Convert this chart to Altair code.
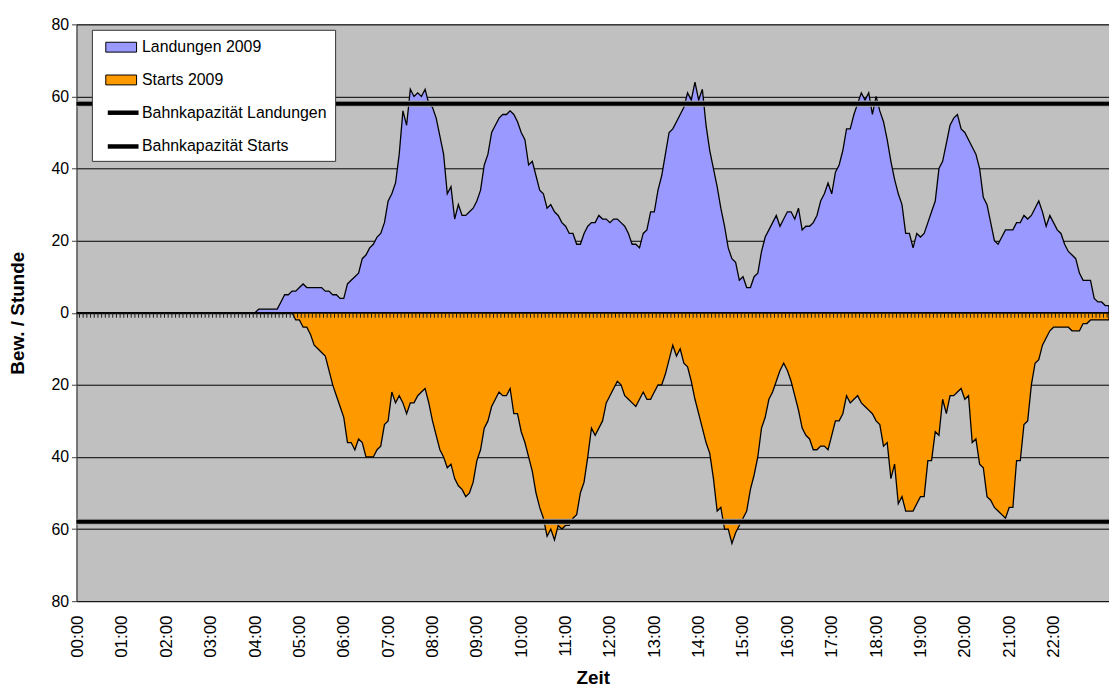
import altair as alt
import pandas as pd

FONT = "Liberation Sans"

# one row per hour, 12 five-minute slots each (00:00 ... 23:15)
landungen = [
    0, 0, 0, 0, 0, 0, 0, 0, 0, 0, 0, 0,          # 00
    0, 0, 0, 0, 0, 0, 0, 0, 0, 0, 0, 0,          # 01
    0, 0, 0, 0, 0, 0, 0, 0, 0, 0, 0, 0,          # 02
    0, 0, 0, 0, 0, 0, 0, 0, 0, 0, 0, 0,          # 03
    0, 1, 1, 1, 1, 1, 1, 3, 5, 5, 6, 6,          # 04
    7, 8, 7, 7, 7, 7, 7, 6, 6, 5, 5, 4,          # 05
    4, 8, 9, 10, 11, 15, 16, 18, 19, 21, 22, 25,  # 06
    31, 33, 36, 44, 56, 52, 62, 60, 61, 60, 62, 58,  # 07
    57, 54, 49, 44, 33, 35, 26, 30, 27, 27, 28, 29,  # 08
    31, 34, 41, 44, 50, 52, 54, 55, 55, 56, 55, 53,  # 09
    50, 48, 41, 42, 38, 34, 33, 29, 30, 28, 27, 25,  # 10
    24, 22, 22, 19, 19, 22, 24, 25, 25, 27, 26, 26,  # 11
    25, 26, 26, 25, 24, 22, 19, 19, 18, 22, 23, 28,  # 12
    28, 34, 38, 44, 50, 51, 53, 55, 57, 61, 59, 64,  # 13
    59, 62, 52, 45, 40, 35, 29, 24, 18, 15, 14, 9,   # 14
    10, 7, 7, 10, 11, 17, 21, 23, 25, 27, 24, 26,    # 15
    28, 28, 26, 29, 23, 24, 24, 25, 27, 31, 33, 36,  # 16
    33, 39, 41, 45, 51, 51, 55, 58, 61, 59, 61, 55,  # 17
    60, 56, 53, 48, 42, 37, 33, 30, 22, 22, 18, 22,  # 18
    21, 22, 25, 28, 31, 40, 42, 47, 52, 54, 55, 51,  # 19
    50, 48, 46, 44, 40, 32, 30, 25, 20, 19, 21, 23,  # 20
    23, 23, 25, 25, 27, 26, 27, 29, 31, 28, 24, 27,  # 21
    25, 23, 22, 19, 17, 16, 15, 11, 9, 9, 9, 4,      # 22
    3, 3, 2, 2,                                       # 23
]

starts = [
    0, 0, 0, 0, 0, 0, 0, 0, 0, 0, 0, 0,          # 00
    0, 0, 0, 0, 0, 0, 0, 0, 0, 0, 0, 0,          # 01
    0, 0, 0, 0, 0, 0, 0, 0, 0, 0, 0, 0,          # 02
    0, 0, 0, 0, 0, 0, 0, 0, 0, 0, 0, 0,          # 03
    0, 0, 0, 0, 0, 0, 0, 0, 0, 0, 0, 2,          # 04
    2, 4, 4, 6, 9, 10, 11, 12, 16, 20, 23, 26,    # 05
    29, 36, 36, 38, 35, 36, 40, 40, 40, 38, 37, 31,  # 06
    30, 22, 25, 23, 25, 28, 25, 25, 23, 22, 21, 25,  # 07
    30, 34, 38, 40, 43, 42, 46, 48, 49, 51, 50, 47,  # 08
    41, 38, 32, 30, 26, 24, 22, 23, 23, 21, 28, 28,  # 09
    33, 36, 40, 44, 50, 54, 57, 62, 60, 63, 59, 60,  # 10
    59, 59, 57, 56, 50, 47, 40, 32, 34, 32, 30, 25,  # 11
    23, 21, 19, 20, 23, 24, 25, 26, 24, 22, 24, 24,  # 12
    22, 20, 20, 17, 13, 9, 12, 10, 14, 15, 19, 24,   # 13
    28, 32, 36, 39, 46, 55, 54, 60, 60, 64, 61, 59,  # 14
    57, 55, 49, 45, 40, 32, 29, 24, 22, 19, 16, 14,  # 15
    16, 19, 23, 27, 32, 34, 35, 38, 38, 37, 37, 38,  # 16
    34, 30, 30, 28, 23, 25, 24, 23, 25, 26, 27, 28,  # 17
    30, 31, 37, 36, 46, 42, 53, 51, 55, 55, 55, 53,  # 18
    51, 51, 41, 41, 33, 34, 24, 28, 23, 23, 22, 21,  # 19
    24, 23, 36, 35, 42, 43, 51, 52, 54, 55, 56, 57,  # 20
    54, 54, 41, 41, 31, 30, 20, 14, 13, 9, 7, 5,     # 21
    4, 4, 4, 4, 4, 5, 5, 5, 3, 3, 2, 2,              # 22
    2, 2, 2, 2,                                       # 23
]

series_names = ["Landungen 2009", "Starts 2009"]
series_colors = ["#9999FF", "#FF9900"]
capacity_names = ["Bahnkapazität Landungen", "Bahnkapazität Starts"]
capacity_values = [58, -58]
hour_labels = [f"{h:02d}:00" for h in range(23)]

n = len(landungen)
minutes = [i * 5 for i in range(n)]
times = [f"{m // 60:02d}:{m % 60:02d}" for m in minutes]

area_df = pd.DataFrame({
    "zeit": times * 2,
    "t": minutes * 2,
    "wert": landungen + [-v for v in starts],
    "serie": [series_names[0]] * n + [series_names[1]] * n,
})
cap_df = pd.DataFrame({"name": capacity_names, "wert": capacity_values})
tick_df = pd.DataFrame({"t": [m - 2.5 for m in minutes] + [minutes[-1] + 2.5]})
frame_df = pd.DataFrame({"k": [0]})

x_scale = alt.Scale(domain=[-1.5, 1395], nice=False, zero=False)
y_scale = alt.Scale(domain=[-80, 80], nice=False)

x_axis = alt.Axis(
    values=[h * 60 for h in range(len(hour_labels))],
    labelExpr="(datum.value < 600 ? '0' : '') + floor(datum.value / 60) + ':00'",
    labelAngle=270, labelFontSize=17, labelPadding=14, ticks=False, domain=False,
    grid=False, title="Zeit", titleFontSize=19, titleFontWeight="bold",
    titleY=77, titleBaseline="middle",
)
y_axis = alt.Axis(
    values=list(range(-80, 81, 20)), labelExpr="abs(datum.value)",
    labelFontSize=16, labelPadding=3, tickSize=5, tickColor="#404040",
    domainColor="#404040", grid=True, gridColor="#000000", gridWidth=1,
    title="Bew. / Stunde", titleFontSize=19, titleFontWeight="bold",
    titleX=-59, titleBaseline="middle",
)

areas = alt.Chart(area_df).mark_area(
    stroke="black", strokeWidth=1.3, clip=True, interpolate="linear",
    orient="vertical",
).encode(
    x=alt.X("t:Q", scale=x_scale, axis=x_axis),
    y=alt.Y("wert:Q", scale=y_scale, axis=y_axis, stack=None),
    fill=alt.Fill(
        "serie:N",
        scale=alt.Scale(domain=series_names, range=series_colors),
        legend=alt.Legend(
            orient="none", legendX=29, legendY=7, title=None,
            symbolType="M-1,-0.32H1V0.32H-1Z", symbolSize=961,
            symbolStrokeColor="black", symbolStrokeWidth=1, symbolOpacity=1,
            labelFontSize=16, labelFont=FONT, labelOffset=5, labelLimit=300,
            rowPadding=9, padding=0,
        ),
    ),
)

frame = alt.Chart(frame_df).mark_rect(
    fill="white", stroke="#333333", strokeWidth=1
).encode(
    x=alt.value(16), x2=alt.value(261), y=alt.value(6), y2=alt.value(138)
)

halo = alt.Chart(cap_df).mark_rule(stroke="#a6a6a6", strokeWidth=6).encode(
    y=alt.Y("wert:Q", scale=y_scale)
)

cap = alt.Chart(cap_df).mark_rule(strokeWidth=4).encode(
    y=alt.Y("wert:Q", scale=y_scale),
    stroke=alt.Stroke(
        "name:N",
        scale=alt.Scale(domain=capacity_names, range=["black", "black"]),
        legend=alt.Legend(
            orient="none", legendX=29, legendY=71, title=None,
            symbolType="stroke", symbolSize=961, symbolStrokeWidth=4.5,
            labelFontSize=16, labelFont=FONT, labelOffset=1, labelLimit=300,
            rowPadding=7, padding=0,
        ),
    ),
)

zero = alt.Chart(frame_df).mark_rule(stroke="black", strokeWidth=1.5).encode(
    y=alt.datum(0)
)

ticks = alt.Chart(tick_df).mark_rule(
    stroke="#1a1a1a", strokeWidth=1, y2Offset=5, clip=True
).encode(
    x=alt.X("t:Q", scale=x_scale), y=alt.datum(0), y2=alt.datum(0)
)

chart = alt.layer(areas, halo, cap, zero, ticks, frame).properties(
    width=1040, height=581,
    autosize=alt.AutoSizeParams(type="none"),
    padding={"left": 69, "top": 14, "right": 0, "bottom": 86},
).configure(
    font=FONT,
).configure_view(
    fill="#C0C0C0", stroke="#808080", strokeWidth=1,
).configure_axis(
    labelFont=FONT, titleFont=FONT, labelColor="black", titleColor="black",
)

chart.save("out.html", embed_options={"renderer": "svg", "actions": False})
